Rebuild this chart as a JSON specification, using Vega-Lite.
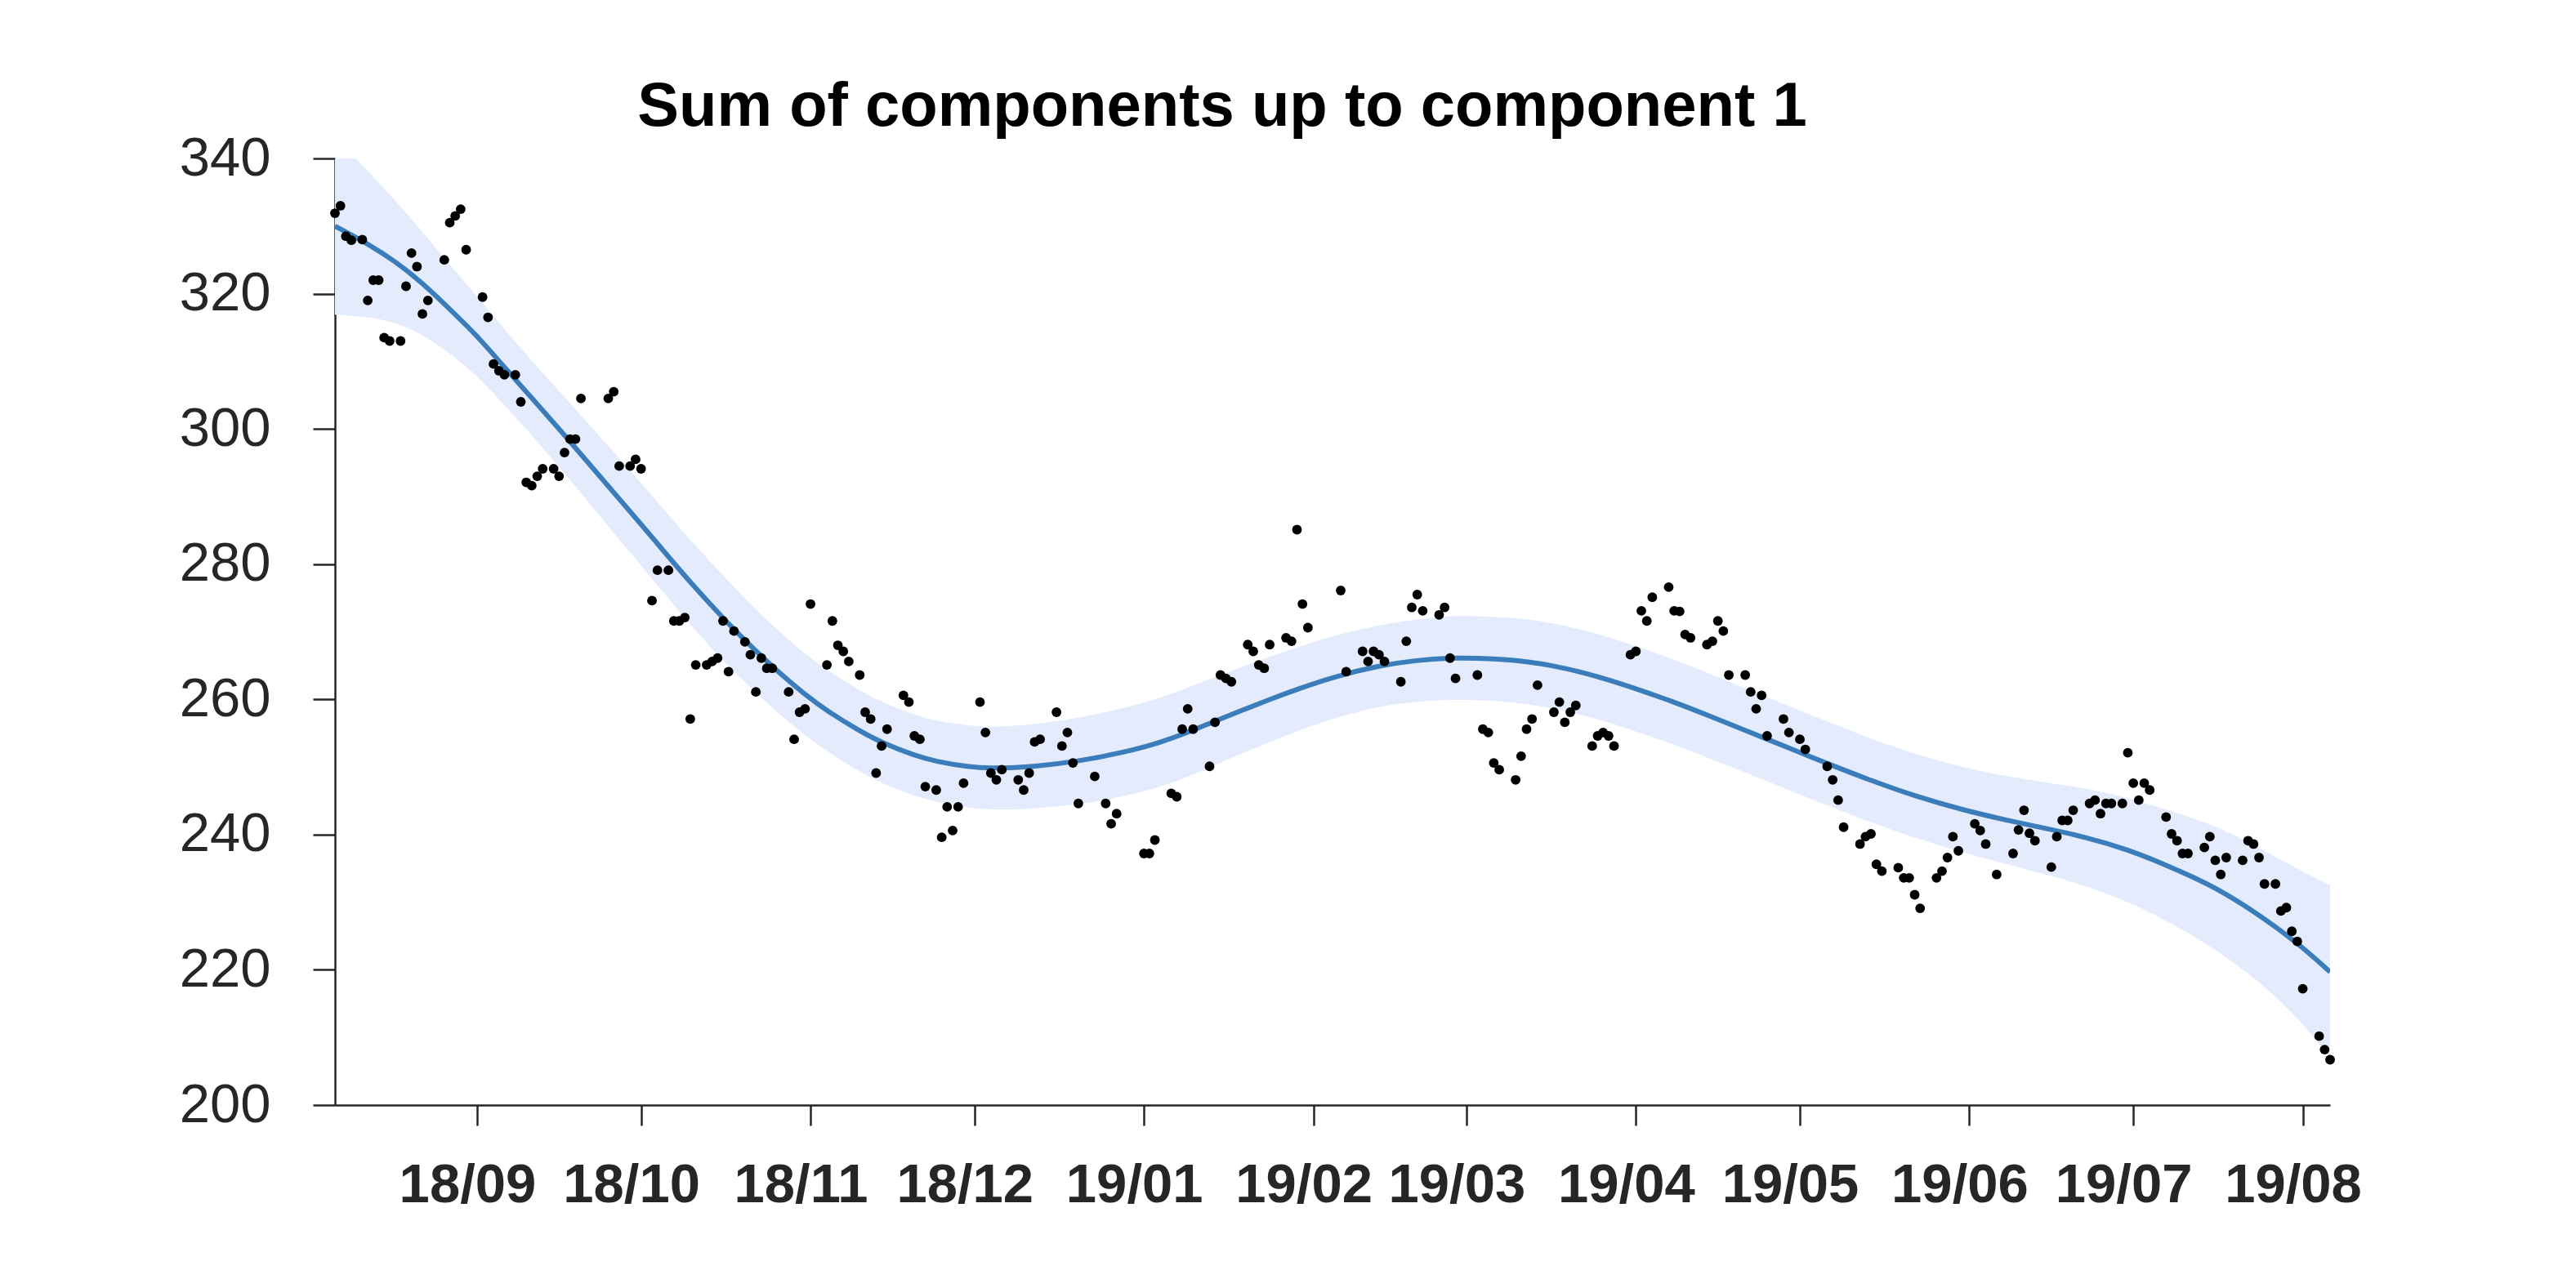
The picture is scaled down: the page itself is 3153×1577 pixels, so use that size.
{
  "$schema": "https://vega.github.io/schema/vega-lite/v6.json",
  "autosize": {"type": "none"},
  "width": 2442,
  "height": 1159,
  "padding": {"left": 410, "top": 194, "right": 301, "bottom": 224},
  "background": "white",
  "title": {
    "text": "Sum of components up to component 1",
    "font": "Liberation Sans",
    "fontSize": 76,
    "fontWeight": "bold",
    "color": "#000000",
    "anchor": "middle",
    "dx": -135,
    "offset": -10
  },
  "config": {
    "view": {"stroke": null},
    "axis": {"grid": false, "title": null}
  },
  "datasets": {
    "points": [
      {"date": "2018-08-06", "value": 331.9},
      {"date": "2018-08-07", "value": 333.0},
      {"date": "2018-08-08", "value": 328.5},
      {"date": "2018-08-09", "value": 327.9},
      {"date": "2018-08-11", "value": 328.0},
      {"date": "2018-08-12", "value": 319.0},
      {"date": "2018-08-13", "value": 322.0},
      {"date": "2018-08-14", "value": 322.0},
      {"date": "2018-08-15", "value": 313.5},
      {"date": "2018-08-16", "value": 313.0},
      {"date": "2018-08-18", "value": 313.0},
      {"date": "2018-08-19", "value": 321.1},
      {"date": "2018-08-20", "value": 326.0},
      {"date": "2018-08-21", "value": 324.0},
      {"date": "2018-08-22", "value": 317.0},
      {"date": "2018-08-23", "value": 319.0},
      {"date": "2018-08-26", "value": 325.0},
      {"date": "2018-08-27", "value": 330.5},
      {"date": "2018-08-28", "value": 331.5},
      {"date": "2018-08-29", "value": 332.5},
      {"date": "2018-08-30", "value": 326.5},
      {"date": "2018-09-02", "value": 319.5},
      {"date": "2018-09-03", "value": 316.5},
      {"date": "2018-09-04", "value": 309.6},
      {"date": "2018-09-05", "value": 308.6},
      {"date": "2018-09-06", "value": 308.0},
      {"date": "2018-09-08", "value": 308.0},
      {"date": "2018-09-09", "value": 304.0},
      {"date": "2018-09-10", "value": 292.1},
      {"date": "2018-09-11", "value": 291.6},
      {"date": "2018-09-12", "value": 293.0},
      {"date": "2018-09-13", "value": 294.1},
      {"date": "2018-09-15", "value": 294.1},
      {"date": "2018-09-16", "value": 293.0},
      {"date": "2018-09-17", "value": 296.5},
      {"date": "2018-09-18", "value": 298.5},
      {"date": "2018-09-19", "value": 298.5},
      {"date": "2018-09-20", "value": 304.5},
      {"date": "2018-09-25", "value": 304.5},
      {"date": "2018-09-26", "value": 305.5},
      {"date": "2018-09-27", "value": 294.5},
      {"date": "2018-09-29", "value": 294.5},
      {"date": "2018-09-30", "value": 295.5},
      {"date": "2018-10-01", "value": 294.1},
      {"date": "2018-10-03", "value": 274.6},
      {"date": "2018-10-04", "value": 279.1},
      {"date": "2018-10-06", "value": 279.1},
      {"date": "2018-10-07", "value": 271.6},
      {"date": "2018-10-08", "value": 271.6},
      {"date": "2018-10-09", "value": 272.1},
      {"date": "2018-10-10", "value": 257.1},
      {"date": "2018-10-11", "value": 265.1},
      {"date": "2018-10-13", "value": 265.1},
      {"date": "2018-10-14", "value": 265.6},
      {"date": "2018-10-15", "value": 266.1},
      {"date": "2018-10-16", "value": 271.6},
      {"date": "2018-10-17", "value": 264.1},
      {"date": "2018-10-18", "value": 270.1},
      {"date": "2018-10-20", "value": 268.5},
      {"date": "2018-10-21", "value": 266.6},
      {"date": "2018-10-22", "value": 261.1},
      {"date": "2018-10-23", "value": 266.1},
      {"date": "2018-10-24", "value": 264.6},
      {"date": "2018-10-25", "value": 264.6},
      {"date": "2018-10-28", "value": 261.1},
      {"date": "2018-10-29", "value": 254.1},
      {"date": "2018-10-30", "value": 258.1},
      {"date": "2018-10-31", "value": 258.6},
      {"date": "2018-11-01", "value": 274.1},
      {"date": "2018-11-04", "value": 265.1},
      {"date": "2018-11-05", "value": 271.6},
      {"date": "2018-11-06", "value": 268.0},
      {"date": "2018-11-07", "value": 267.1},
      {"date": "2018-11-08", "value": 265.6},
      {"date": "2018-11-10", "value": 263.6},
      {"date": "2018-11-11", "value": 258.1},
      {"date": "2018-11-12", "value": 257.1},
      {"date": "2018-11-13", "value": 249.1},
      {"date": "2018-11-14", "value": 253.1},
      {"date": "2018-11-15", "value": 255.6},
      {"date": "2018-11-18", "value": 260.6},
      {"date": "2018-11-19", "value": 259.6},
      {"date": "2018-11-20", "value": 254.6},
      {"date": "2018-11-21", "value": 254.1},
      {"date": "2018-11-22", "value": 247.1},
      {"date": "2018-11-24", "value": 246.6},
      {"date": "2018-11-25", "value": 239.6},
      {"date": "2018-11-26", "value": 244.1},
      {"date": "2018-11-27", "value": 240.6},
      {"date": "2018-11-28", "value": 244.1},
      {"date": "2018-11-29", "value": 247.6},
      {"date": "2018-12-02", "value": 259.6},
      {"date": "2018-12-03", "value": 255.1},
      {"date": "2018-12-04", "value": 249.1},
      {"date": "2018-12-05", "value": 248.1},
      {"date": "2018-12-06", "value": 249.6},
      {"date": "2018-12-09", "value": 248.1},
      {"date": "2018-12-10", "value": 246.6},
      {"date": "2018-12-11", "value": 249.1},
      {"date": "2018-12-12", "value": 253.7},
      {"date": "2018-12-13", "value": 254.1},
      {"date": "2018-12-16", "value": 258.1},
      {"date": "2018-12-17", "value": 253.1},
      {"date": "2018-12-18", "value": 255.1},
      {"date": "2018-12-19", "value": 250.6},
      {"date": "2018-12-20", "value": 244.6},
      {"date": "2018-12-23", "value": 248.6},
      {"date": "2018-12-25", "value": 244.6},
      {"date": "2018-12-26", "value": 241.6},
      {"date": "2018-12-27", "value": 243.1},
      {"date": "2019-01-01", "value": 237.2},
      {"date": "2019-01-02", "value": 237.2},
      {"date": "2019-01-03", "value": 239.2},
      {"date": "2019-01-06", "value": 246.1},
      {"date": "2019-01-07", "value": 245.6},
      {"date": "2019-01-08", "value": 255.6},
      {"date": "2019-01-09", "value": 258.6},
      {"date": "2019-01-10", "value": 255.6},
      {"date": "2019-01-13", "value": 250.1},
      {"date": "2019-01-14", "value": 256.6},
      {"date": "2019-01-15", "value": 263.6},
      {"date": "2019-01-16", "value": 263.1},
      {"date": "2019-01-17", "value": 262.6},
      {"date": "2019-01-20", "value": 268.1},
      {"date": "2019-01-21", "value": 267.1},
      {"date": "2019-01-22", "value": 265.1},
      {"date": "2019-01-23", "value": 264.6},
      {"date": "2019-01-24", "value": 268.1},
      {"date": "2019-01-27", "value": 269.1},
      {"date": "2019-01-28", "value": 268.6},
      {"date": "2019-01-29", "value": 285.1},
      {"date": "2019-01-30", "value": 274.1},
      {"date": "2019-01-31", "value": 270.6},
      {"date": "2019-02-06", "value": 276.1},
      {"date": "2019-02-07", "value": 264.1},
      {"date": "2019-02-10", "value": 267.1},
      {"date": "2019-02-11", "value": 265.6},
      {"date": "2019-02-12", "value": 267.1},
      {"date": "2019-02-13", "value": 266.6},
      {"date": "2019-02-14", "value": 265.6},
      {"date": "2019-02-17", "value": 262.6},
      {"date": "2019-02-18", "value": 268.6},
      {"date": "2019-02-19", "value": 273.6},
      {"date": "2019-02-20", "value": 275.5},
      {"date": "2019-02-21", "value": 273.1},
      {"date": "2019-02-24", "value": 272.5},
      {"date": "2019-02-25", "value": 273.6},
      {"date": "2019-02-26", "value": 266.1},
      {"date": "2019-02-27", "value": 263.1},
      {"date": "2019-03-03", "value": 263.6},
      {"date": "2019-03-04", "value": 255.6},
      {"date": "2019-03-05", "value": 255.1},
      {"date": "2019-03-06", "value": 250.6},
      {"date": "2019-03-07", "value": 249.6},
      {"date": "2019-03-10", "value": 248.1},
      {"date": "2019-03-11", "value": 251.6},
      {"date": "2019-03-12", "value": 255.6},
      {"date": "2019-03-13", "value": 257.1},
      {"date": "2019-03-14", "value": 262.1},
      {"date": "2019-03-17", "value": 258.1},
      {"date": "2019-03-18", "value": 259.6},
      {"date": "2019-03-19", "value": 256.6},
      {"date": "2019-03-20", "value": 258.1},
      {"date": "2019-03-21", "value": 259.1},
      {"date": "2019-03-24", "value": 253.1},
      {"date": "2019-03-25", "value": 254.6},
      {"date": "2019-03-26", "value": 255.1},
      {"date": "2019-03-27", "value": 254.6},
      {"date": "2019-03-28", "value": 253.1},
      {"date": "2019-03-31", "value": 266.6},
      {"date": "2019-04-01", "value": 267.1},
      {"date": "2019-04-02", "value": 273.1},
      {"date": "2019-04-03", "value": 271.6},
      {"date": "2019-04-04", "value": 275.1},
      {"date": "2019-04-07", "value": 276.6},
      {"date": "2019-04-08", "value": 273.1},
      {"date": "2019-04-09", "value": 273.0},
      {"date": "2019-04-10", "value": 269.6},
      {"date": "2019-04-11", "value": 269.1},
      {"date": "2019-04-14", "value": 268.1},
      {"date": "2019-04-15", "value": 268.6},
      {"date": "2019-04-16", "value": 271.6},
      {"date": "2019-04-17", "value": 270.1},
      {"date": "2019-04-18", "value": 263.6},
      {"date": "2019-04-21", "value": 263.6},
      {"date": "2019-04-22", "value": 261.1},
      {"date": "2019-04-23", "value": 258.6},
      {"date": "2019-04-24", "value": 260.6},
      {"date": "2019-04-25", "value": 254.6},
      {"date": "2019-04-28", "value": 257.1},
      {"date": "2019-04-29", "value": 255.1},
      {"date": "2019-05-01", "value": 254.1},
      {"date": "2019-05-02", "value": 252.6},
      {"date": "2019-05-06", "value": 250.1},
      {"date": "2019-05-07", "value": 248.1},
      {"date": "2019-05-08", "value": 245.1},
      {"date": "2019-05-09", "value": 241.1},
      {"date": "2019-05-12", "value": 238.6},
      {"date": "2019-05-13", "value": 239.7},
      {"date": "2019-05-14", "value": 240.1},
      {"date": "2019-05-15", "value": 235.6},
      {"date": "2019-05-16", "value": 234.6},
      {"date": "2019-05-19", "value": 235.1},
      {"date": "2019-05-20", "value": 233.6},
      {"date": "2019-05-21", "value": 233.6},
      {"date": "2019-05-22", "value": 231.1},
      {"date": "2019-05-23", "value": 229.1},
      {"date": "2019-05-26", "value": 233.6},
      {"date": "2019-05-27", "value": 234.6},
      {"date": "2019-05-28", "value": 236.6},
      {"date": "2019-05-29", "value": 239.7},
      {"date": "2019-05-30", "value": 237.6},
      {"date": "2019-06-02", "value": 241.6},
      {"date": "2019-06-03", "value": 240.6},
      {"date": "2019-06-04", "value": 238.6},
      {"date": "2019-06-06", "value": 234.1},
      {"date": "2019-06-09", "value": 237.2},
      {"date": "2019-06-10", "value": 240.7},
      {"date": "2019-06-11", "value": 243.6},
      {"date": "2019-06-12", "value": 240.2},
      {"date": "2019-06-13", "value": 239.1},
      {"date": "2019-06-16", "value": 235.2},
      {"date": "2019-06-17", "value": 239.7},
      {"date": "2019-06-18", "value": 242.1},
      {"date": "2019-06-19", "value": 242.1},
      {"date": "2019-06-20", "value": 243.6},
      {"date": "2019-06-23", "value": 244.6},
      {"date": "2019-06-24", "value": 245.1},
      {"date": "2019-06-25", "value": 243.1},
      {"date": "2019-06-26", "value": 244.6},
      {"date": "2019-06-27", "value": 244.6},
      {"date": "2019-06-29", "value": 244.6},
      {"date": "2019-06-30", "value": 252.1},
      {"date": "2019-07-01", "value": 247.6},
      {"date": "2019-07-02", "value": 245.1},
      {"date": "2019-07-03", "value": 247.6},
      {"date": "2019-07-04", "value": 246.6},
      {"date": "2019-07-07", "value": 242.6},
      {"date": "2019-07-08", "value": 240.1},
      {"date": "2019-07-09", "value": 239.1},
      {"date": "2019-07-10", "value": 237.2},
      {"date": "2019-07-11", "value": 237.2},
      {"date": "2019-07-14", "value": 238.1},
      {"date": "2019-07-15", "value": 239.7},
      {"date": "2019-07-16", "value": 236.2},
      {"date": "2019-07-17", "value": 234.1},
      {"date": "2019-07-18", "value": 236.6},
      {"date": "2019-07-21", "value": 236.2},
      {"date": "2019-07-22", "value": 239.1},
      {"date": "2019-07-23", "value": 238.6},
      {"date": "2019-07-24", "value": 236.6},
      {"date": "2019-07-25", "value": 232.7},
      {"date": "2019-07-27", "value": 232.7},
      {"date": "2019-07-28", "value": 228.7},
      {"date": "2019-07-29", "value": 229.2},
      {"date": "2019-07-30", "value": 225.7},
      {"date": "2019-07-31", "value": 224.2},
      {"date": "2019-08-01", "value": 217.2},
      {"date": "2019-08-04", "value": 210.2},
      {"date": "2019-08-05", "value": 208.2},
      {"date": "2019-08-06", "value": 206.7}
    ],
    "fit": [
      {"date": "2018-08-06", "fit": 330.0, "lo": 316.9, "hi": 343.1},
      {"date": "2018-08-12", "fit": 327.4, "lo": 316.6, "hi": 338.2},
      {"date": "2018-08-17", "fit": 324.8, "lo": 315.8, "hi": 333.8},
      {"date": "2018-08-22", "fit": 321.6, "lo": 314.0, "hi": 329.2},
      {"date": "2018-08-27", "fit": 317.7, "lo": 311.2, "hi": 324.2},
      {"date": "2018-09-01", "fit": 313.8, "lo": 307.9, "hi": 319.7},
      {"date": "2018-09-06", "fit": 309.1, "lo": 303.5, "hi": 314.7},
      {"date": "2018-09-11", "fit": 304.6, "lo": 299.1, "hi": 310.1},
      {"date": "2018-09-16", "fit": 300.0, "lo": 294.4, "hi": 305.6},
      {"date": "2018-09-21", "fit": 295.3, "lo": 289.5, "hi": 301.1},
      {"date": "2018-09-26", "fit": 290.6, "lo": 284.6, "hi": 296.6},
      {"date": "2018-10-01", "fit": 285.9, "lo": 279.8, "hi": 292.0},
      {"date": "2018-10-06", "fit": 281.1, "lo": 274.9, "hi": 287.3},
      {"date": "2018-10-11", "fit": 276.4, "lo": 270.1, "hi": 282.7},
      {"date": "2018-10-16", "fit": 272.0, "lo": 265.7, "hi": 278.3},
      {"date": "2018-10-21", "fit": 267.9, "lo": 261.7, "hi": 274.1},
      {"date": "2018-10-26", "fit": 264.1, "lo": 258.0, "hi": 270.2},
      {"date": "2018-10-31", "fit": 260.7, "lo": 254.7, "hi": 266.7},
      {"date": "2018-11-04", "fit": 258.3, "lo": 252.3, "hi": 264.3},
      {"date": "2018-11-10", "fit": 255.3, "lo": 249.3, "hi": 261.3},
      {"date": "2018-11-14", "fit": 253.6, "lo": 247.6, "hi": 259.6},
      {"date": "2018-11-20", "fit": 251.7, "lo": 245.7, "hi": 257.7},
      {"date": "2018-11-24", "fit": 250.8, "lo": 244.8, "hi": 256.8},
      {"date": "2018-11-30", "fit": 250.0, "lo": 243.9, "hi": 256.1},
      {"date": "2018-12-04", "fit": 249.8, "lo": 243.7, "hi": 255.9},
      {"date": "2018-12-10", "fit": 249.9, "lo": 243.7, "hi": 256.1},
      {"date": "2018-12-20", "fit": 250.8, "lo": 244.4, "hi": 257.2},
      {"date": "2018-12-28", "fit": 252.1, "lo": 245.6, "hi": 258.6},
      {"date": "2019-01-04", "fit": 253.6, "lo": 247.0, "hi": 260.2},
      {"date": "2019-01-09", "fit": 255.1, "lo": 248.5, "hi": 261.7},
      {"date": "2019-01-14", "fit": 256.8, "lo": 250.3, "hi": 263.3},
      {"date": "2019-01-19", "fit": 258.4, "lo": 252.0, "hi": 264.8},
      {"date": "2019-01-24", "fit": 260.0, "lo": 253.7, "hi": 266.3},
      {"date": "2019-01-29", "fit": 261.5, "lo": 255.3, "hi": 267.7},
      {"date": "2019-02-05", "fit": 263.4, "lo": 257.3, "hi": 269.5},
      {"date": "2019-02-13", "fit": 265.0, "lo": 259.0, "hi": 271.0},
      {"date": "2019-02-20", "fit": 265.8, "lo": 259.7, "hi": 271.9},
      {"date": "2019-02-26", "fit": 266.15, "lo": 259.95, "hi": 272.35},
      {"date": "2019-03-03", "fit": 266.1, "lo": 259.9, "hi": 272.3},
      {"date": "2019-03-07", "fit": 265.95, "lo": 259.75, "hi": 272.15},
      {"date": "2019-03-12", "fit": 265.6, "lo": 259.3, "hi": 271.9},
      {"date": "2019-03-17", "fit": 264.95, "lo": 258.65, "hi": 271.25},
      {"date": "2019-03-22", "fit": 264.05, "lo": 257.75, "hi": 270.35},
      {"date": "2019-03-27", "fit": 262.9, "lo": 256.6, "hi": 269.2},
      {"date": "2019-04-02", "fit": 261.3, "lo": 255.0, "hi": 267.6},
      {"date": "2019-04-08", "fit": 259.6, "lo": 253.3, "hi": 265.9},
      {"date": "2019-04-14", "fit": 257.7, "lo": 251.4, "hi": 264.0},
      {"date": "2019-04-22", "fit": 255.1, "lo": 248.9, "hi": 261.3},
      {"date": "2019-04-29", "fit": 252.8, "lo": 246.6, "hi": 259.0},
      {"date": "2019-05-07", "fit": 250.2, "lo": 244.0, "hi": 256.4},
      {"date": "2019-05-14", "fit": 248.0, "lo": 241.8, "hi": 254.2},
      {"date": "2019-05-22", "fit": 245.7, "lo": 239.5, "hi": 251.9},
      {"date": "2019-05-31", "fit": 243.6, "lo": 237.3, "hi": 249.9},
      {"date": "2019-06-08", "fit": 242.1, "lo": 235.6, "hi": 248.6},
      {"date": "2019-06-15", "fit": 240.9, "lo": 234.1, "hi": 247.7},
      {"date": "2019-06-22", "fit": 239.7, "lo": 232.5, "hi": 246.9},
      {"date": "2019-06-30", "fit": 237.8, "lo": 230.1, "hi": 245.5},
      {"date": "2019-07-07", "fit": 235.5, "lo": 227.3, "hi": 243.7},
      {"date": "2019-07-12", "fit": 233.7, "lo": 225.0, "hi": 242.4},
      {"date": "2019-07-17", "fit": 231.7, "lo": 222.5, "hi": 240.9},
      {"date": "2019-07-22", "fit": 229.2, "lo": 219.5, "hi": 238.9},
      {"date": "2019-07-27", "fit": 226.4, "lo": 216.1, "hi": 236.7},
      {"date": "2019-08-01", "fit": 223.3, "lo": 212.1, "hi": 234.5},
      {"date": "2019-08-06", "fit": 219.7, "lo": 206.9, "hi": 232.5}
    ]
  },
  "encoding": {
    "x": {
      "field": "date",
      "type": "temporal",
      "scale": {
        "type": "utc",
        "domain": [
          {"year": 2018, "month": 8, "date": 6, "utc": true},
          {"year": 2019, "month": 8, "date": 6, "utc": true}
        ],
        "nice": false
      },
      "axis": {
        "values": [
          {"year": 2018, "month": 9, "date": 1, "utc": true},
          {"year": 2018, "month": 10, "date": 1, "utc": true},
          {"year": 2018, "month": 11, "date": 1, "utc": true},
          {"year": 2018, "month": 12, "date": 1, "utc": true},
          {"year": 2019, "month": 1, "date": 1, "utc": true},
          {"year": 2019, "month": 2, "date": 1, "utc": true},
          {"year": 2019, "month": 3, "date": 1, "utc": true},
          {"year": 2019, "month": 4, "date": 1, "utc": true},
          {"year": 2019, "month": 5, "date": 1, "utc": true},
          {"year": 2019, "month": 6, "date": 1, "utc": true},
          {"year": 2019, "month": 7, "date": 1, "utc": true},
          {"year": 2019, "month": 8, "date": 1, "utc": true}
        ],
        "labelExpr": "utcFormat(datum.value, '%y/%m')",
        "title": null,
        "grid": false,
        "domainColor": "#262626",
        "domainWidth": 2.5,
        "tickColor": "#262626",
        "tickWidth": 2.5,
        "tickSize": 25,
        "labelFont": "Liberation Sans",
        "labelFontSize": 67,
        "labelFontWeight": "bold",
        "labelColor": "#262626",
        "labelPadding": 40,
        "labelOffset": -12,
        "labelLimit": 0,
        "labelOverlap": false,
        "labelFlush": false,
        "labelBound": false
      }
    }
  },
  "layer": [
    {
      "data": {"name": "fit"},
      "mark": {"type": "area", "color": "#e3ebfc", "opacity": 1, "clip": true, "interpolate": "basis"},
      "encoding": {
        "y": {
          "field": "lo",
          "type": "quantitative",
          "scale": {"domain": [200, 340], "nice": false, "zero": false},
          "axis": {
            "values": [200, 220, 240, 260, 280, 300, 320, 340],
            "title": null,
            "grid": false,
            "domainColor": "#262626",
            "domainWidth": 2.5,
            "tickColor": "#262626",
            "tickWidth": 2.5,
            "tickSize": 27,
            "labelFont": "Liberation Sans",
            "labelFontSize": 67,
            "labelColor": "#262626",
            "labelPadding": 52,
            "labelFlush": false,
            "labelBound": false,
            "labelOverlap": false
          }
        },
        "y2": {"field": "hi"}
      }
    },
    {
      "data": {"name": "fit"},
      "mark": {"type": "line", "color": "#3a7dba", "strokeWidth": 6, "clip": true, "interpolate": "basis"},
      "encoding": {
        "y": {"field": "fit", "type": "quantitative"}
      }
    },
    {
      "data": {"name": "points"},
      "mark": {"type": "circle", "size": 140, "color": "#000000", "opacity": 1},
      "encoding": {
        "y": {"field": "value", "type": "quantitative"}
      }
    }
  ]
}
